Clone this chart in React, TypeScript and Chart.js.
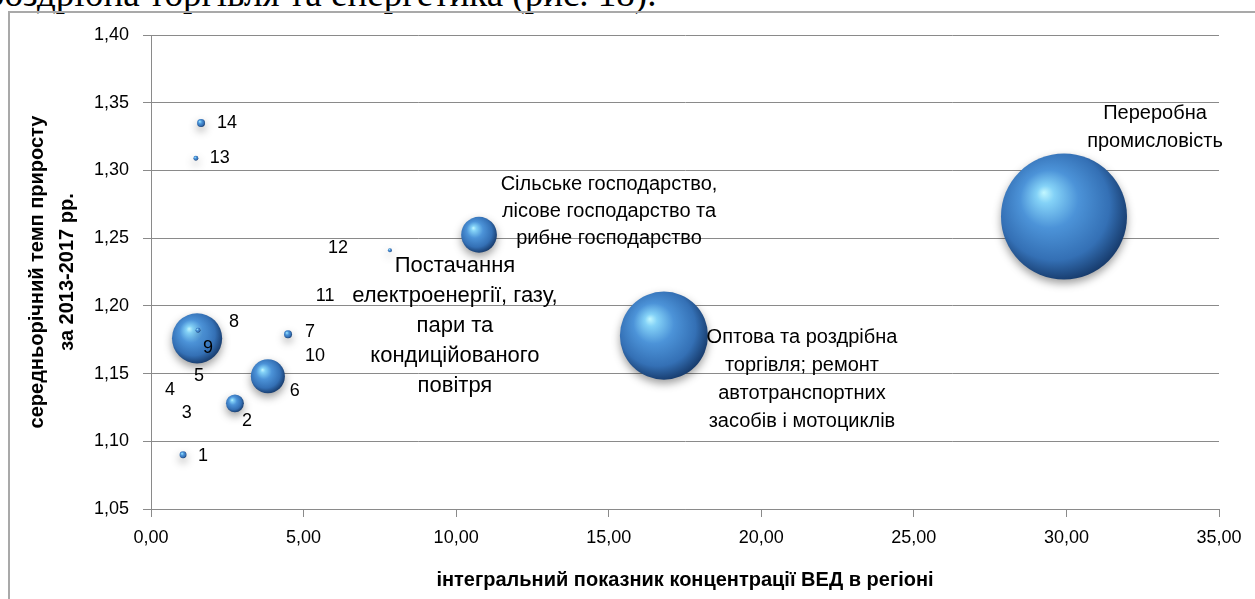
import React, { useEffect, useRef } from 'react';
import { Chart, registerables } from 'chart.js';

Chart.register(...registerables);

// ---------- data ----------
const pointLabels: string[][] = [
  ['1'], ['2'], ['3'], ['4'], ['5'], ['6'], ['7'], ['8'], ['9'], ['10'], ['11'], ['12'], ['13'], ['14'],
  ['Сільське господарство,', 'лісове господарство та', 'рибне господарство'],
  ['Постачання', 'електроенергії, газу,', 'пари та', 'кондиційованого', 'повітря'],
  ['Оптова та роздрібна', 'торгівля; ремонт', 'автотранспортних', 'засобів і мотоциклів'],
  ['Переробна', 'промисловість'],
];
const concentration = [1.05, 2.75, 0.52, 0.1, 0.92, 3.83, 4.49, 1.54, 1.51, 4.72, 5.05, 5.41, 1.47, 1.64, 10.75, 7.83, 16.81, 29.92];
const growthRate = [1.09, 1.128, 1.121, 1.138, 1.148, 1.148, 1.179, 1.182, 1.176, 1.163, 1.207, 1.243, 1.309, 1.335, 1.2525, 1.241, 1.178, 1.266];
const bubbleSize = [0.12, 0.8, 0, 0, 0, 2.9, 0.16, 0.06, 6.3, 0, 0, 0, 0.06, 0.16, 3.2, 0.04, 19.4, 39.7];
const xTickLabels = ['0,00', '5,00', '10,00', '15,00', '20,00', '25,00', '30,00', '35,00'];
const yTickLabels = ['1,05', '1,10', '1,15', '1,20', '1,25', '1,30', '1,35', '1,40'];

// ---------- layout / style ----------
const labelOffsets: number[][] = [
  [20, 1], [12, 18], [20, 0], [16, 0], [20, 0], [27, 15], [22, -2], [36, -8], [11, 10], [20, 0], [20, 0], [22, 0], [24, 0], [26, 0],
  [130, -23], [65, 76], [138, 44], [91, -89],
];
const labelFontSize = [18, 18, 18, 18, 18, 18, 18, 18, 18, 18, 18, 18, 18, 18, 20, 22, 20, 20];
const labelLineHeight = [20, 20, 20, 20, 20, 20, 20, 20, 20, 20, 20, 20, 20, 20, 27, 30, 28, 28];
const RADIUS_PER_SQRT = 10;
const FONT = "'Liberation Sans', Arial, sans-serif";
const GRID = '#8a8a8a';

const bubbleShadow = {
  id: 'bubbleShadow',
  beforeDatasetDraw(chart: any) {
    const ctx = chart.ctx;
    ctx.save();
    ctx.shadowColor = 'rgba(0,0,0,0.38)';
    ctx.shadowBlur = 9;
    ctx.shadowOffsetX = 0;
    ctx.shadowOffsetY = 4;
  },
  afterDatasetDraw(chart: any) {
    chart.ctx.restore();
  },
};

const bubbleLabels = {
  id: 'bubbleLabels',
  afterDatasetsDraw(chart: any) {
    const ctx = chart.ctx;
    const meta = chart.getDatasetMeta(0);
    const data = chart.data.datasets[0].data as any[];
    ctx.save();
    ctx.fillStyle = '#000';
    ctx.textAlign = 'center';
    ctx.textBaseline = 'middle';
    meta.data.forEach((el: any, j: number) => {
      const i = data[j].idx;
      const lines = pointLabels[i];
      const lh = labelLineHeight[i];
      ctx.font = `${labelFontSize[i]}px ${FONT}`;
      const cx = el.x + labelOffsets[i][0];
      const cy = el.y + labelOffsets[i][1] - ((lines.length - 1) * lh) / 2;
      lines.forEach((t, k) => ctx.fillText(t, cx, cy + k * lh));
    });
    ctx.restore();
  },
};

function sphereFill(c: any) {
  const raw = c.raw;
  const fallback = '#4a8fd6';
  if (!raw || !c.chart || !c.chart.scales || !c.chart.scales.x || !c.chart.scales.y) return fallback;
  const x = c.chart.scales.x.getPixelForValue(raw.x);
  const y = c.chart.scales.y.getPixelForValue(raw.y);
  const r = Math.max(raw.r || 0, 1);
  if (!isFinite(x) || !isFinite(y) || !isFinite(r)) return fallback;
  const g = c.chart.ctx.createRadialGradient(x - r * 0.32, y - r * 0.38, 0, x - r * 0.1, y - r * 0.12, r * 1.15);
  g.addColorStop(0, '#c2f7ff');
  g.addColorStop(0.12, '#84d2f7');
  g.addColorStop(0.4, '#4c93d8');
  g.addColorStop(0.76, '#3470b5');
  g.addColorStop(1, '#173b6c');
  return g;
}

export default function App() {
  const ref = useRef<HTMLCanvasElement>(null);
  useEffect(() => {
    if (!ref.current) return;
    const pts = concentration.map((x, i) => ({
      x,
      y: growthRate[i],
      r: Math.sqrt(bubbleSize[i]) * RADIUS_PER_SQRT,
      idx: i,
    }));
    pts.sort((a, b) => b.r - a.r);
    const chart = new Chart(ref.current, {
      type: 'bubble',
      data: {
        datasets: [
          {
            data: pts as any,
            backgroundColor: sphereFill as any,
            borderWidth: 0,
            hoverBorderWidth: 0,
          },
        ],
      },
      options: {
        animation: false,
        responsive: false,
        events: [],
        layout: { autoPadding: false, padding: { top: 35, right: 36, bottom: 0, left: 0 } },
        plugins: { legend: { display: false }, tooltip: { enabled: false } },
        scales: {
          x: {
            type: 'linear',
            min: 0,
            max: 35,
            afterFit: (s: any) => { s.height = 90; },
            ticks: {
              stepSize: 5,
              padding: 10,
              color: '#000',
              font: { family: FONT, size: 18 },
              callback: (_v: any, i: number) => xTickLabels[i],
            },
            grid: { drawOnChartArea: false, drawTicks: true, tickLength: 8, color: GRID },
            border: { display: true, color: GRID, width: 1 },
            title: {
              display: true,
              text: 'інтегральний показник концентрації ВЕД в регіоні',
              color: '#000',
              font: { family: FONT, size: 20, weight: 'bold' },
              padding: { top: 0, bottom: 7 },
            },
          },
          y: {
            type: 'linear',
            min: 1.05,
            max: 1.4,
            afterFit: (s: any) => { s.width = 151; },
            ticks: {
              stepSize: 0.05,
              padding: 14,
              color: '#000',
              font: { family: FONT, size: 18 },
              callback: (_v: any, i: number) => yTickLabels[i],
            },
            grid: { color: GRID, tickLength: 8, drawTicks: true },
            border: { display: true, color: GRID, width: 1 },
            title: {
              display: true,
              text: ['середньорічний темп приросту', 'за 2013-2017 рр.'],
              color: '#000',
              font: { family: FONT, size: 20, weight: 'bold', lineHeight: 1.5 },
              padding: { top: 22, bottom: 0 },
            },
          },
        },
      },
      plugins: [bubbleShadow, bubbleLabels],
    });
    return () => chart.destroy();
  }, []);

  return (
    <div style={{ position: 'absolute', left: 0, top: 0, width: 1255, height: 599, overflow: 'hidden', background: '#fff' }}>
      <div
        style={{
          position: 'absolute',
          left: -14,
          top: -25,
          whiteSpace: 'nowrap',
          fontFamily: "'Liberation Serif', 'Times New Roman', serif",
          fontSize: 37,
          lineHeight: '37px',
          color: '#000',
        }}
      >
        роздрібна торгівля та енергетика (рис. 18).
      </div>
      <div
        style={{
          position: 'absolute',
          left: 8,
          top: 11,
          width: 1400,
          height: 800,
          borderLeft: '2px solid #a9a9a9',
          borderTop: '2px solid #a9a9a9',
        }}
      />
      <canvas ref={ref} width={1255} height={599} style={{ position: 'absolute', left: 0, top: 0, width: 1255, height: 599 }} />
    </div>
  );
}
